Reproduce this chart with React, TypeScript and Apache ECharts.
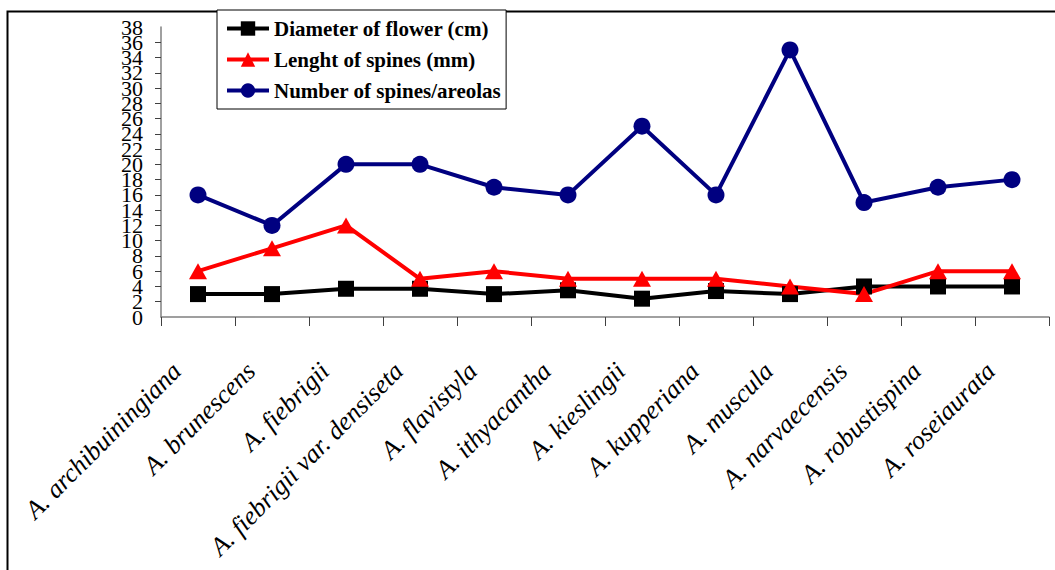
import React, { useEffect, useRef } from "react";
import * as echarts from "echarts";

const categories = [
  "A. archibuiningiana",
  "A. brunescens",
  "A. fiebrigii",
  "A. fiebrigii var. densiseta",
  "A. flavistyla",
  "A. ithyacantha",
  "A. kieslingii",
  "A. kupperiana",
  "A. muscula",
  "A. narvaecensis",
  "A. robustispina",
  "A. roseiaurata",
];

const diameterOfFlower = [3, 3, 3.7, 3.7, 3, 3.5, 2.4, 3.4, 3, 4, 4, 4];
const lengthOfSpines = [6, 9, 12, 5, 6, 5, 5, 5, 4, 3, 6, 6];
const numberOfSpines = [16, 12, 20, 20, 17, 16, 25, 16, 35, 15, 17, 18];

const seriesNames = [
  "Diameter of flower (cm)",
  "Lenght of spines (mm)",
  "Number of spines/areolas",
];

const Y_MIN = 0;
const Y_MAX = 38;
const Y_STEP = 2;

const FONT = "Liberation Serif";

const yLabelStyle = {
  margin: 18,
  fontFamily: FONT,
  fontSize: 22,
  lineHeight: 13,
  color: "#000",
};

export default function App() {
  const ref = useRef<HTMLDivElement>(null);

  useEffect(() => {
    document.body.style.margin = "0";
    const chart = echarts.init(ref.current!, undefined, { renderer: "svg" });
    chart.setOption({
      animation: false,
      backgroundColor: "#ffffff",
      textStyle: { fontFamily: FONT },
      graphic: [
        {
          type: "rect",
          left: 5,
          top: 9,
          shape: { width: 1200, height: 700 },
          style: { fill: "none", stroke: "#000", lineWidth: 2 },
          silent: true,
          z: -1,
        },
      ],
      legend: {
        orient: "vertical",
        left: 217,
        top: 10,
        padding: [8, 5, 8, 8],
        itemWidth: 42,
        itemHeight: 18,
        itemGap: 10,
        borderColor: "#000",
        borderWidth: 1,
        backgroundColor: "#fff",
        lineStyle: { width: 4 },
        textStyle: {
          fontFamily: FONT,
          fontWeight: "bold",
          fontSize: 21,
          color: "#000",
        },
        data: seriesNames,
      },
      grid: { left: 161, right: 6, top: 27, bottom: 253, containLabel: false },
      xAxis: {
        type: "category",
        data: categories,
        boundaryGap: true,
        axisLine: { lineStyle: { color: "#808080", width: 1.5 } },
        axisTick: { show: true, length: 9, lineStyle: { color: "#404040" } },
        axisLabel: {
          rotate: 45,
          interval: 0,
          margin: 71,
          verticalAlign: "bottom",
          padding: [0, 0, 17, 0],
          fontFamily: FONT,
          fontStyle: "italic",
          fontSize: 26,
          color: "#000",
        },
      },
      yAxis: [
        {
          type: "value",
          position: "left",
          min: Y_MIN,
          max: Y_MAX,
          interval: Y_STEP,
          splitLine: { show: false },
          axisLine: { show: true, lineStyle: { color: "#808080", width: 1.5 } },
          axisTick: { show: true, length: 6, lineStyle: { color: "#404040" } },
          axisLabel: { ...yLabelStyle, showMinLabel: false, showMaxLabel: false },
        },
        {
          type: "value",
          position: "left",
          offset: 0,
          min: Y_MIN,
          max: Y_MAX,
          interval: Y_STEP,
          splitLine: { show: false },
          axisLine: { show: false },
          axisTick: { show: false },
          axisLabel: {
            ...yLabelStyle,
            showMinLabel: true,
            showMaxLabel: true,
            formatter: (v: number) =>
              v === Y_MIN || v === Y_MAX ? String(v) : "",
          },
        },
      ],
      series: [
        {
          name: seriesNames[0],
          type: "line",
          data: diameterOfFlower,
          symbol: "rect",
          symbolSize: 16,
          color: "#000000",
          lineStyle: { color: "#000000", width: 4 },
          itemStyle: { color: "#000000" },
        },
        {
          name: seriesNames[1],
          type: "line",
          data: lengthOfSpines,
          symbol: "triangle",
          symbolSize: [18, 16],
          color: "#ff0000",
          lineStyle: { color: "#ff0000", width: 4 },
          itemStyle: { color: "#ff0000" },
        },
        {
          name: seriesNames[2],
          type: "line",
          data: numberOfSpines,
          symbol: "circle",
          symbolSize: 17,
          color: "#000080",
          lineStyle: { color: "#000080", width: 4 },
          itemStyle: { color: "#000080" },
        },
      ],
    });
    return () => chart.dispose();
  }, []);

  return <div ref={ref} style={{ width: 1055, height: 570 }} />;
}
